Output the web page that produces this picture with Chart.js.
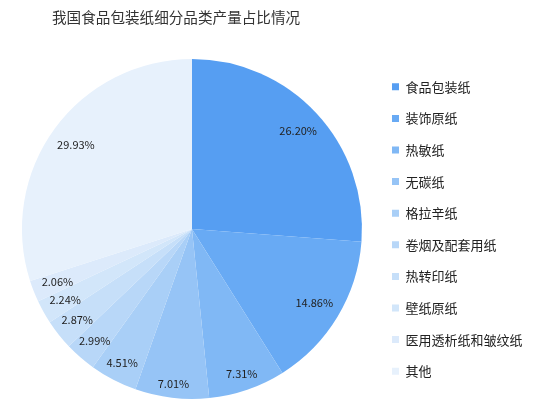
<!DOCTYPE html>
<html>
<head>
<meta charset="utf-8">
<script src="https://cdn.jsdelivr.net/npm/chart.js@4"></script>
<style>
  html, body { margin: 0; padding: 0; background: #fff; }
  #wrap { position: relative; width: 542px; height: 412px; }
</style>
</head>
<body>
<div id="wrap"><canvas id="pie" width="542" height="412"></canvas></div>
<script>
const TITLE = '我国食品包装纸细分品类产量占比情况';
const categories = ['食品包装纸', '装饰原纸', '热敏纸', '无碳纸', '格拉辛纸', '卷烟及配套用纸', '热转印纸', '壁纸原纸', '医用透析纸和皱纹纸', '其他'];
const shares = [26.20, 14.86, 7.31, 7.01, 4.51, 2.99, 2.87, 2.24, 2.06, 29.93];
const colors = ['#569ef2', '#68aaf4', '#80b8f5', '#96c4f6', '#a9cff7', '#b8d7f8', '#c6dff9', '#d2e6fa', '#dceafb', '#e7f1fc'];
const FONT = '"Noto Sans CJK SC", "Noto Sans", sans-serif';

// title drawn at the top left
const titlePlugin = {
  id: 'leftTitle',
  afterDraw(chart) {
    const ctx = chart.ctx;
    ctx.save();
    ctx.font = '14.6px ' + FONT;
    ctx.fillStyle = '#333';
    ctx.textBaseline = 'middle';
    ctx.textAlign = 'left';
    ctx.fillText(TITLE, 52, 17);
    ctx.restore();
  }
};

// percentage labels, placed just inside the outer edge
const pctLabels = {
  id: 'pctLabels',
  afterDatasetsDraw(chart) {
    const ctx = chart.ctx;
    const meta = chart.getDatasetMeta(0);
    ctx.save();
    ctx.font = '11px ' + FONT;
    ctx.fillStyle = '#222';
    ctx.textAlign = 'center';
    ctx.textBaseline = 'middle';
    meta.data.forEach((arc, i) => {
      const txt = shares[i].toFixed(2) + '%';
      const mid = (arc.startAngle + arc.endAngle) / 2;
      const w = ctx.measureText(txt).width, h = 4;
      const c = Math.cos(mid), s = Math.sin(mid);
      const ext = Math.abs(c) * w / 2 + Math.abs(s) * h / 2;
      const d = arc.outerRadius - 10 - ext;
      ctx.fillText(txt, arc.x + c * d, arc.y + s * d);
    });
    ctx.restore();
  }
};

new Chart(document.getElementById('pie').getContext('2d'), {
  type: 'pie',
  data: {
    labels: categories,
    datasets: [{ data: shares, backgroundColor: colors, borderWidth: 0, hoverOffset: 0 }]
  },
  options: {
    responsive: false,
    animation: false,
    layout: { padding: { left: 10.5, right: 9.5, top: 59, bottom: 13 } },
    plugins: {
      title: { display: false },
      tooltip: { enabled: false },
      legend: {
        position: 'right',
        labels: {
          boxWidth: 7, boxHeight: 7, padding: 18.6,
          color: '#222',
          font: { size: 13, family: FONT }
        }
      }
    }
  },
  plugins: [titlePlugin, pctLabels]
});
</script>
</body>
</html>
